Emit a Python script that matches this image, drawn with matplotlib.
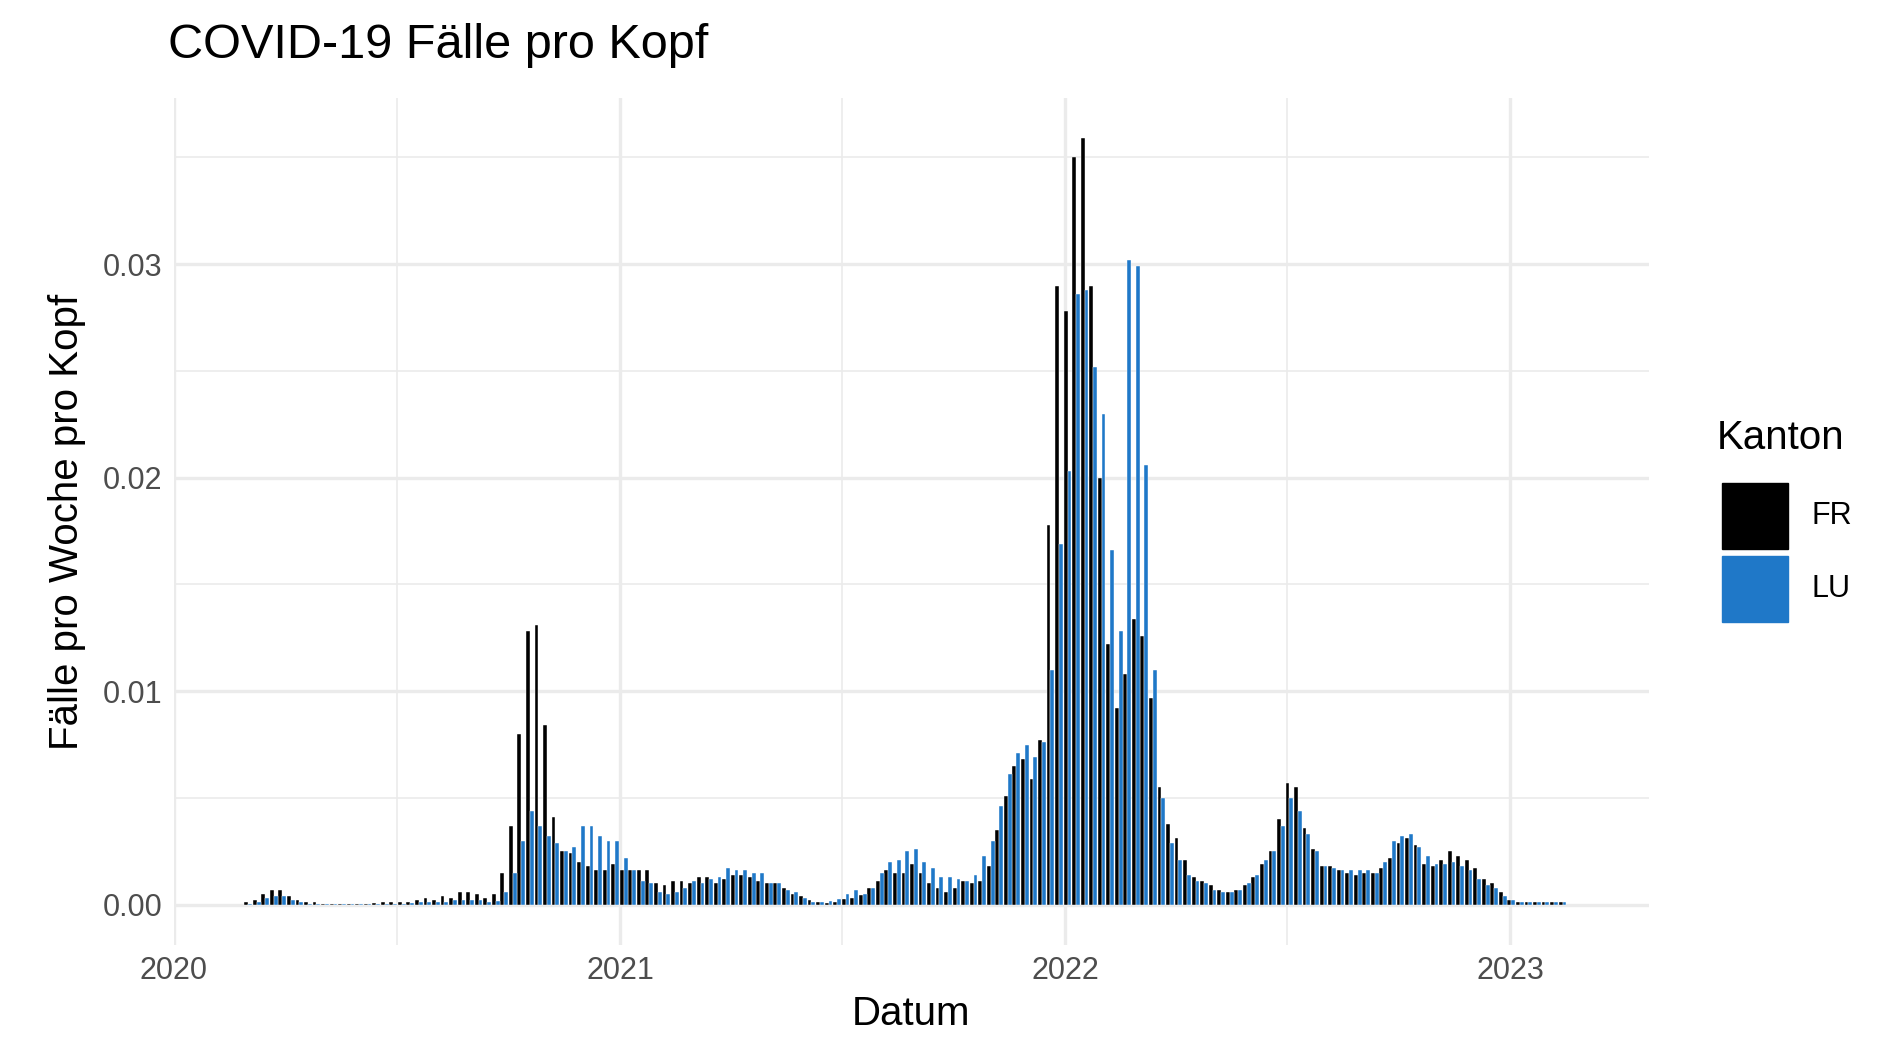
import matplotlib
matplotlib.use("Agg")
import matplotlib.pyplot as plt
import matplotlib.dates as mdates
from matplotlib.patches import Rectangle
import numpy as np
import datetime as dt

plt.rcParams['font.family'] = ['Liberation Sans', 'DejaVu Sans']

start = dt.date(2020, 3, 2)
fr_early = [0.0001,0.0002,0.0005,0.0007,0.0007,0.0004,0.0002,0.0001,0.0001,0.00005,0.00005,0.00003,0.00003,0.00005,0.00005,0.00008,0.0001,0.0001,0.0001,0.0001,0.0002,0.0003,0.0002,0.0004,0.0003,0.0006,0.0006]
lu_early = [0.00005,0.0001,0.0003,0.0004,0.0004,0.0002,0.0001,0.00005,0.00003,0.00002,0.00002,0.00002,0.00002,0.00003,0.00003,0.00005,0.00005,0.00005,0.00005,0.00008,0.0001,0.0001,0.0001,0.0001,0.0002,0.0002,0.0002]
fr_mid = [0.0005,0.0003,0.0005,0.0015,0.0037,0.0080,0.0128,0.0131,0.0084,0.0041,
          0.0025,0.0024,0.0020,0.0018,0.0016,0.0016,0.0019,0.0016,0.0016,0.0016,
          0.0016,0.0010,0.0009,0.0011,0.0011,0.0010,0.0013,0.0013,0.0010,0.0012,
          0.0014,0.0014,0.0013,0.0011,0.0010,0.0010,0.0008,0.0005,0.0004,0.0002,
          0.0001,0.00006,0.0001,0.00025,0.0003,0.00045,0.0008,0.0011,0.0016,0.0015,
          0.0015,0.0019,0.0015,0.0010,0.0008,0.0006,0.0008,0.0011,0.0010,0.0011,
          0.0018,0.0035,0.0051,0.0065,0.0068,0.0059,0.0077,0.0178,0.0290,0.0278,
          0.0350,0.0359,0.0290,0.0200,0.0122,0.0092,0.0108,0.0134,0.0126,0.0097,
          0.0055,0.0038,0.0031,0.0021,0.0013,0.0011,0.0009]
lu_mid = [0.0002,0.0001,0.00016,0.0006,0.0015,0.0030,0.0044,0.0037,0.0032,0.0029,
          0.0025,0.0027,0.0037,0.0037,0.0032,0.0030,0.0030,0.0022,0.0016,0.0011,
          0.0010,0.0006,0.0005,0.0006,0.0008,0.0011,0.0010,0.0012,0.0013,0.0017,
          0.0016,0.0016,0.0015,0.0015,0.0010,0.0010,0.0007,0.0006,0.0003,0.0001,
          0.0001,0.00016,0.00025,0.0005,0.0007,0.0005,0.0008,0.0015,0.0020,0.0021,
          0.0025,0.0026,0.0020,0.0017,0.0013,0.0013,0.0012,0.0011,0.0014,0.0023,
          0.0030,0.0046,0.0061,0.0071,0.0075,0.0069,0.0076,0.0110,0.0169,0.0203,
          0.0286,0.0288,0.0252,0.0230,0.0166,0.0128,0.0302,0.0299,0.0206,0.0110,
          0.0050,0.0029,0.0021,0.0014,0.0011,0.0010,0.0007]
fr_late = [0.0007,0.0006,0.0007,0.0009,0.0013,0.0019,0.0025,0.0040,0.0057,0.0055,
           0.0036,0.0026,0.0018,0.0018,0.0016,0.0015,0.0014,0.0015,0.0015,0.0017,
           0.0022,0.0029,0.0031,0.0028,0.0019,0.0018,0.0021,0.0025,0.0023,0.0021,
           0.0017,0.0012,0.0010,0.0006,0.0002,0.0001,0.0001,0.0001,0.0001,0.0001,0.0001]
lu_late = [0.0006,0.0006,0.0007,0.0010,0.0014,0.0021,0.0025,0.0037,0.0050,0.0044,
           0.0033,0.0025,0.0018,0.0017,0.0016,0.0016,0.0016,0.0016,0.0015,0.0020,
           0.0030,0.0032,0.0033,0.0027,0.0023,0.0019,0.0019,0.0020,0.0018,0.0016,
           0.0012,0.0009,0.0008,0.0004,0.0002,0.0001,0.0001,0.0001,0.0001,0.0001,0.0001]
fr = np.array(fr_early + fr_mid + fr_late)
lu = np.array(lu_early + lu_mid + lu_late)
dates = [start + dt.timedelta(days=7 * i) for i in range(len(fr))]
x = mdates.date2num(dates)

FR_COL = "#000000"
LU_COL = "#1F78C8"

fig = plt.figure(figsize=(18.89, 10.62), dpi=100)
ax = fig.add_axes([0.092, 0.110, 0.781, 0.798])
w = 3.15
ax.bar(x - w / 2, fr, width=w, color=FR_COL, edgecolor="white", linewidth=0.3)
ax.bar(x + w / 2, lu, width=w, color=LU_COL, edgecolor="white", linewidth=0.3)

ax.set_xlim(mdates.date2num(dt.date(2020, 1, 1)), mdates.date2num(dt.date(2023, 4, 25)))
ax.set_ylim(-0.0019, 0.0378)
ax.set_yticks([0, 0.01, 0.02, 0.03])
ax.set_yticklabels(["0.00", "0.01", "0.02", "0.03"])
ax.set_yticks([0.005, 0.015, 0.025, 0.035], minor=True)
years = [dt.date(y, 1, 1) for y in range(2020, 2024)]
ax.set_xticks(mdates.date2num(years))
ax.set_xticklabels([str(y.year) for y in years])
ax.set_xticks(mdates.date2num([dt.date(y, 7, 2) for y in range(2020, 2023)]), minor=True)
ax.grid(which="major", color="#EBEBEB", linewidth=2.4)
ax.grid(which="minor", color="#EBEBEB", linewidth=1.2)
ax.set_axisbelow(True)
for s in ax.spines.values():
    s.set_visible(False)
ax.tick_params(which="both", length=0, labelsize=22, labelcolor="#4D4D4D", pad=8)
ax.set_xlabel("Datum", fontsize=29, labelpad=6)
ax.set_ylabel("Fälle pro Woche pro Kopf", fontsize=29, labelpad=12)
fig.text(0.089, 0.957, "COVID-19 Fälle pro Kopf", fontsize=35, va="center", ha="left")

# legend
fig.text(0.909, 0.588, "Kanton", fontsize=29, va="center", ha="left")
kw, kh = 0.0348, 0.062
fig.patches.append(Rectangle((0.9115, 0.483), kw, kh, transform=fig.transFigure, color=FR_COL))
fig.patches.append(Rectangle((0.9115, 0.414), kw, kh, transform=fig.transFigure, color=LU_COL))
fig.text(0.959, 0.514, "FR", fontsize=22, va="center", ha="left")
fig.text(0.959, 0.445, "LU", fontsize=22, va="center", ha="left")

fig.savefig("out.png", dpi=100)
